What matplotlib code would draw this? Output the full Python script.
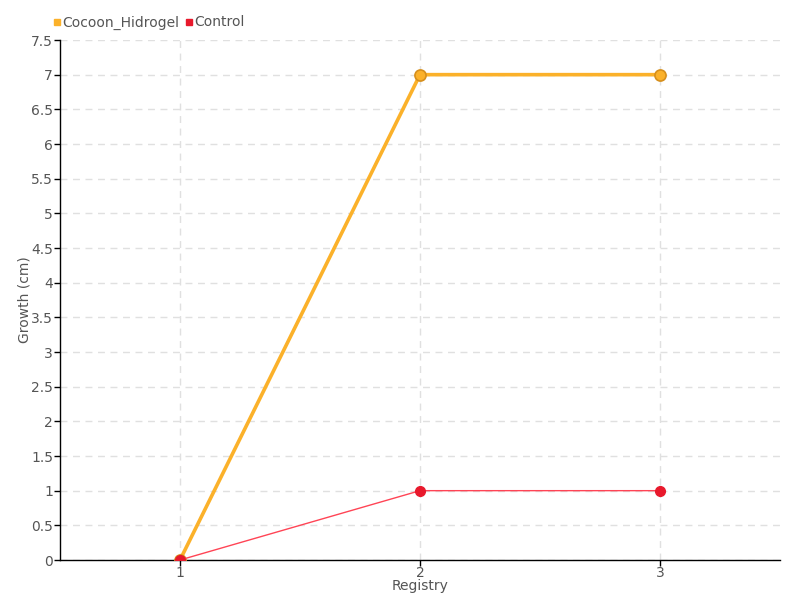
import matplotlib
matplotlib.use('Agg')
import matplotlib.pyplot as plt
from matplotlib.lines import Line2D

registry = [1, 2, 3]
cocoon_hidrogel = [0, 7, 7]
control = [0, 1, 1]
y_ticks = [0, 0.5, 1, 1.5, 2, 2.5, 3, 3.5, 4, 4.5, 5, 5.5, 6, 6.5, 7, 7.5]

orange = '#fbb12a'
orange_edge = '#d68f1c'
red = '#e8192c'
red_line = '#ff4455'
text_gray = '#555555'

plt.rcParams['font.family'] = ['DejaVu Sans Condensed', 'DejaVu Sans']

fig = plt.figure(figsize=(8, 6), dpi=100)
ax = fig.add_axes([60 / 800, 40 / 600, 720 / 800, 520 / 600])

ax.plot(registry, cocoon_hidrogel, color=orange, linewidth=2.6, marker='o',
        markersize=8, markerfacecolor=orange, markeredgecolor=orange_edge,
        markeredgewidth=1.2, zorder=3)
ax.plot(registry, control, color=red_line, linewidth=1, marker='o',
        markersize=7, markerfacecolor=red, markeredgecolor=red, zorder=4)

ax.set_xlim(0.5, 3.5)
ax.set_ylim(0, 7.5)
ax.set_xticks(registry)
ax.set_xticklabels([str(r) for r in registry])
ax.set_yticks(y_ticks)
ax.set_yticklabels([f'{t:g}' for t in y_ticks])

ax.grid(True, linestyle=(0, (5, 4)), color='#e0e0e0', linewidth=1)
ax.set_axisbelow(True)
for s in ['top', 'right']:
    ax.spines[s].set_visible(False)
ax.spines['left'].set_linewidth(1)
ax.spines['bottom'].set_linewidth(1)
ax.tick_params(axis='both', direction='out', length=4, width=1,
               labelsize=10, labelcolor=text_gray, pad=1)
ax.tick_params(axis='x', pad=0)

ax.set_xlabel('Registry', fontsize=10, color=text_gray)
ax.xaxis.set_label_coords(0.5, -0.037)
ax.set_ylabel('Growth (cm)', fontsize=10, color=text_gray)
ax.yaxis.set_label_coords(-0.039, 0.5)

handles = [
    Line2D([], [], linestyle='none', marker='s', markersize=5,
           color=orange, label='Cocoon_Hidrogel'),
    Line2D([], [], linestyle='none', marker='s', markersize=5,
           color=red, label='Control'),
]
fig.legend(handles=handles, loc='upper left', bbox_to_anchor=(0.05, 0.995),
           ncol=2, frameon=False, fontsize=10, handlelength=0.6,
           handletextpad=0.1, columnspacing=0.4, labelcolor=text_gray)

fig.savefig('out.png', dpi=100)
